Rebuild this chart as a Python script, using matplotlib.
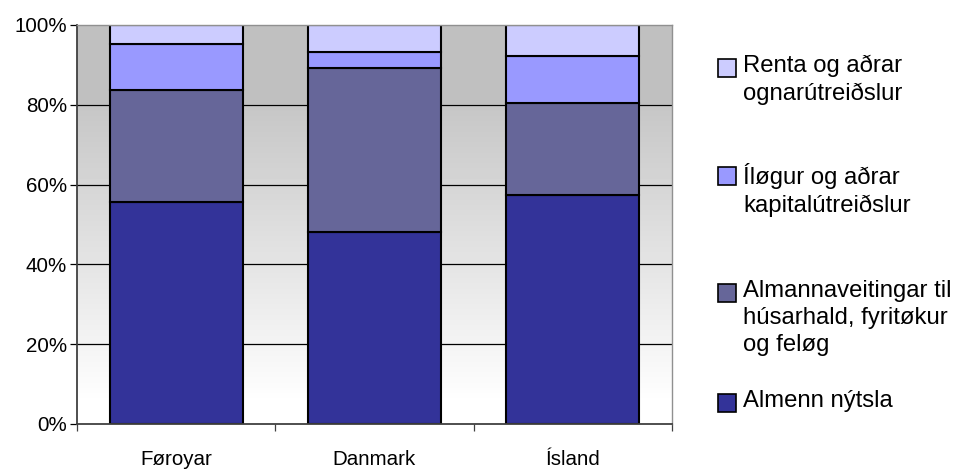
import matplotlib.pyplot as plt
import numpy as np
from matplotlib.patches import Rectangle
from matplotlib.ticker import FixedLocator, PercentFormatter

plt.rcParams['font.family'] = ['Liberation Sans', 'DejaVu Sans']

countries = ["Føroyar", "Danmark", "Ísland"]
series = ["Almenn nýtsla",
          "Almannaveitingar til\nhúsarhald, fyritøkur\nog feløg",
          "Íløgur og aðrar\nkapitalútreiðslur",
          "Renta og aðrar\nognarútreiðslur"]
almenn = [55.6, 48.2, 57.4]
almannaveitingar = [28.1, 41.1, 23.1]
iloegur = [11.5, 3.9, 11.6]
renta = [4.8, 6.8, 7.9]
colors = ["#333399", "#666699", "#9999ff", "#ccccff"]

values = [almenn, almannaveitingar, iloegur, renta]

fig = plt.figure(figsize=(9.56, 4.7), dpi=100)
ax = fig.add_axes([0.0805, 0.0979, 0.6224, 0.849])

# background gradient: gray at top, white near bottom
yy = np.linspace(0, 100, 400)
shade = np.where(yy >= 80, 192, 255 - (255 - 198) * np.clip((yy - 5) / 75, 0, 1))
img = np.repeat(shade[:, None], 2, axis=1) / 255.0
ax.imshow(img, cmap="gray", vmin=0, vmax=1, origin="lower", aspect="auto",
          extent=[-0.5, 2.5, 0, 100], zorder=0)

for g in [20, 40, 60, 80]:
    ax.axhline(g, color="black", lw=0.9, zorder=1)

x = np.arange(len(countries))
bottom = np.zeros(len(countries))
for vals, c in zip(values, colors):
    ax.bar(x, vals, 0.67, bottom=bottom, color=c, edgecolor="black", lw=1.5, zorder=2)
    bottom += np.array(vals)

ax.set_xlim(-0.5, 2.5)
ax.set_ylim(0, 100)
ax.set_yticks([0, 20, 40, 60, 80, 100])
ax.yaxis.set_major_formatter(PercentFormatter(decimals=0))
ax.tick_params(axis="y", length=5, width=0.9, pad=2, labelsize=14.8, color="black")

ax.set_xticks(x)
ax.set_xticklabels(countries)
ax.tick_params(axis="x", which="major", length=0, pad=19, labelsize=14.8)
ax.xaxis.set_minor_locator(FixedLocator([-0.5, 0.5, 1.5, 2.5]))
ax.tick_params(axis="x", which="minor", length=5, width=0.9, color="#404040")

for s in ["left", "bottom"]:
    ax.spines[s].set_color("#404040")
    ax.spines[s].set_linewidth(1.3)
for s in ["right", "top"]:
    ax.spines[s].set_color("#909090")
    ax.spines[s].set_linewidth(1.0)

# legend drawn manually, top entry first
leg_y = [68, 176, 293, 403]
for lab, c, yp in zip(series[::-1], colors[::-1], leg_y):
    fy = 1 - yp / 470
    fig.patches.append(Rectangle((718 / 956, fy - 9 / 470), 18 / 956, 18 / 470,
                                 transform=fig.transFigure, facecolor=c,
                                 edgecolor="black", lw=1.2))
    fig.text(743 / 956, fy + 13 / 470, lab, fontsize=17.2, va="top", ha="left",
             linespacing=1.3)

fig.savefig("out.png", dpi=100)
